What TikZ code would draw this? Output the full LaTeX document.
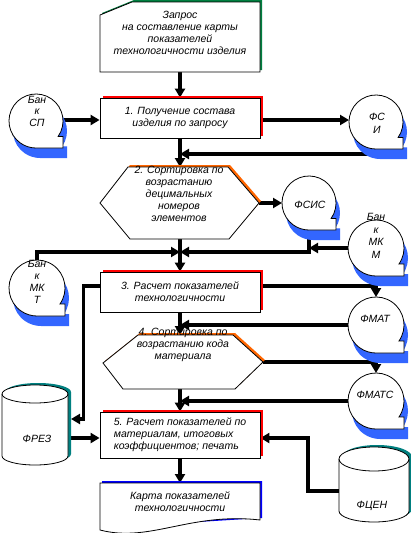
\documentclass[tikz,border=0pt]{standalone}
\usepackage{fontspec}
\setmainfont{Liberation Sans}
\usetikzlibrary{arrows.meta,shadows}
\definecolor{boxsh}{HTML}{FF0000}
\definecolor{hexsh}{HTML}{FF6600}
\definecolor{tapesh}{HTML}{3366FF}
\definecolor{cylsh}{HTML}{008080}
\definecolor{reqsh}{HTML}{008040}
\definecolor{docsh}{HTML}{0000FF}
\pgfdeclarelayer{back}
\pgfsetlayers{back,main}
\tikzset{
  outline/.style={draw=black, line width=0.8pt, fill=white},
  conn/.style={line width=3.2pt, -{Triangle[length=9pt,width=10pt]}},
  lbl/.style={font=\fontsize{10.5}{12}\selectfont\itshape, align=center, inner sep=0pt},
  hold/.style={draw=none, fill=none, inner sep=0pt, outer sep=0pt},
  boxnode/.style={outline, rectangle, minimum width=160pt, inner sep=0pt,
    font=\fontsize{10.5}{12}\selectfont\itshape, align=center,
    general shadow={fill=boxsh, shadow xshift=2.5pt, shadow yshift=2.5pt}},
}
\newcommand{\tapeshape}[3]{%
  \fill[tapesh] ({#1+4},{#2+10}) ++(35:#3) arc[start angle=35,end angle=-270,radius=#3] -- ++(#3,0) -- ++(0,{-#3*(1-sin(35))}) -- cycle;
  \path[outline] (#1,#2) ++(35:#3) arc[start angle=35,end angle=-270,radius=#3] -- ++(#3,0) -- ++(0,{-#3*(1-sin(35))}) -- cycle;
}
\newcommand{\cylshape}[6]{%
  \begin{scope}[shift={(3,-2)}]
  \fill[cylsh] ({#1-#4},#2) -- ({#1-#4},#3) arc[start angle=180,end angle=0,x radius=#4,y radius=#6] -- ({#1+#4},#2) arc[start angle=0,end angle=-180,x radius=#4,y radius=#5] -- cycle;
  \end{scope}
  \path[outline] ({#1-#4},#2) -- ({#1-#4},#3) arc[start angle=180,end angle=0,x radius=#4,y radius=#6] -- ({#1+#4},#2) arc[start angle=0,end angle=-180,x radius=#4,y radius=#5] -- cycle;
  \draw[line width=0.8pt] ({#1-#4},#2) arc[start angle=180,end angle=0,x radius=#4,y radius=#5];
}
\begin{document}
\begin{tikzpicture}[x=1pt,y=-1pt]
\useasboundingbox (0,0) rectangle (410,533);

% level coordinates
\coordinate (r120) at (0,120);
\coordinate (r154) at (0,154);
\coordinate (r252) at (0,252);
\coordinate (r286) at (0,286);
\coordinate (r419) at (0,419);
\coordinate (r438) at (0,438);
\coordinate (r491) at (0,491);

% request card
\fill[reqsh] (102,13) -- (134,0) -- (262,0) -- (262,70) -- (102,70) -- cycle;
\path[outline] (100,15) -- (132,2) -- (260,2) -- (260,72) -- (100,72) -- cycle;
\node[hold, minimum width=160pt, minimum height=70pt] (req) at (180,37) {};
\node[lbl] (reqlbl) at (180,33) {Запрос\\на составление карты\\показателей\\технологичности изделия};

% process boxes
\node[boxnode, minimum height=40pt] (box1) at (180,118) {1. Получение состава\\изделия по запросу};
\node[boxnode, minimum height=40pt] (box3) at (180,292) {3. Расчет показателей\\технологичности};
\node[boxnode, minimum height=46pt, align=left] (box5) at (180,435) {5. Расчет показателей по\\материалам, итоговых\\коэффициентов; печать};

% hexagon 2
\fill[hexsh] (130,165) -- (230,165) -- (261,201) -- (230,237) -- (130,237) -- (102,201) -- cycle;
\path[outline] (128,167) -- (228,167) -- (259,203) -- (229,239) -- (130,239) -- (100,203) -- cycle;
\node[hold, minimum width=159pt, minimum height=72pt] (hex2) at (179.5,203) {};
\node[lbl] (hex2lbl) at (179,194) {2. Сортировка по\\возрастанию\\децимальных\\номеров\\элементов};

% hexagon 4
\fill[hexsh] (140,333) -- (235,333) -- (265,360) -- (237,387) -- (125,387) -- (105,361) -- cycle;
\path[outline] (138,335) -- (233,335) -- (263,362) -- (235,389) -- (123,389) -- (103,363) -- cycle;
\node[hold, minimum width=160pt, minimum height=54pt] (hex4) at (183,362) {};
\node[lbl] (hex4lbl) at (183,345) {4. Сортировка по\\возрастанию кода\\материала};

% document
\fill[docsh] (102,481) -- (262,481) -- (262,518) -- (102,528) -- cycle;
\path[outline] (100,483) -- (260,483) -- (260,520) .. controls (190,512) and (150,543) .. (100,530) -- cycle;
\node[hold, minimum width=160pt, minimum height=47pt] (doc) at (180,506.5) {};
\node[lbl] (doclbl) at (180,501.5) {Карта показателей\\технологичности};

% tape storages
\tapeshape{36}{121}{27}
\node[hold, circle, minimum size=54pt] (bsp) at (36,121) {};
\node[lbl, font=\fontsize{10.5}{11.5}\selectfont\itshape] (bsplbl) at (37,111) {Бан\\к\\СП};

\tapeshape{376}{122}{27}
\node[hold, circle, minimum size=54pt] (fsi) at (376,122) {};
\node[lbl, font=\fontsize{10.5}{12.5}\selectfont\itshape] (fsilbl) at (377,123.5) {ФС\\И};

\tapeshape{309}{203}{27}
\node[hold, circle, minimum size=54pt] (fsis) at (309,203) {};
\node[lbl] (fsislbl) at (310,205) {ФСИС};

\tapeshape{376}{248}{28}
\node[hold, circle, minimum size=56pt] (mkm) at (376,248) {};
\node[lbl, font=\fontsize{10.5}{12.5}\selectfont\itshape] (mkmlbl) at (376,236) {Бан\\к\\МК\\М};

\tapeshape{37}{288}{28}
\node[hold, circle, minimum size=56pt] (mkt) at (37,288) {};
\node[lbl] (mktlbl) at (37,282) {Бан\\к\\МК\\Т};

\tapeshape{376}{325}{28}
\node[hold, circle, minimum size=56pt] (fmat) at (376,325) {};
\node[lbl] (fmatlbl) at (375,319) {ФМАТ};

\tapeshape{376}{401}{28}
\node[hold, circle, minimum size=56pt] (fmats) at (376,401) {};
\node[lbl] (fmatslbl) at (375,395) {ФМАТС};

% cylinders
\cylshape{35}{394}{456}{33}{9}{9}
\node[hold, minimum width=66pt, minimum height=80pt] (frez) at (35,425) {};
\node[lbl] (frezlbl) at (37,439) {ФРЕЗ};

\cylshape{374}{459}{511}{35}{12}{11}
\node[hold, minimum width=70pt, minimum height=75pt] (fcen) at (374,484.5) {};
\node[lbl] (fcenlbl) at (372,506) {ФЦЕН};

% connectors
\begin{pgfonlayer}{back}
\draw[conn] (req.south) -- (box1.north);
\draw[conn] (bsp.east |- r120) -- (box1.west |- r120);
\draw[conn] (box1.east |- r120) -- (fsi.west |- r120);
\draw[conn] (fsi.south) |- (box1.south |- r154);
\draw[conn] (box1.south) -- (box1.south |- hex2.north);
\draw[conn] (hex2.east) -- (fsis.west);
\draw[conn] (fsis.south) |- (box1.south |- r252);
\draw[conn] (mkm.west) -- (mkm.west -| fsis.south);
\draw[conn] (mkt.north) |- (box1.south |- r252);
\draw[conn] (box1.south |- hex2.south) -- (box3.north);
\draw[conn] (box3.west |- r286) -- ++(-16,0) |- ([xshift=3pt]frez.east |- r419);
\draw[conn] (box3.east |- r286) -| (fmat.north);
\draw[conn] (fmat.west) -- (fmat.west -| box1.south);
\draw[conn] (box3.south) -- (box3.south |- hex4.north);
\draw[conn] (hex4.east) -| (fmats.north);
\draw[conn] (fmats.west) -- (fmats.west -| box1.south);
\draw[conn] (box3.south |- hex4.south) -- (box5.north);
\draw[conn] (frez.east |- r438) -- (box5.west |- r438);
\draw[conn] (fcen.west |- r491) -- ++(-31,0) |- (box5.east |- r438);
\draw[conn] (box5.south) -- (doc.north);
\end{pgfonlayer}
\end{tikzpicture}
\end{document}
